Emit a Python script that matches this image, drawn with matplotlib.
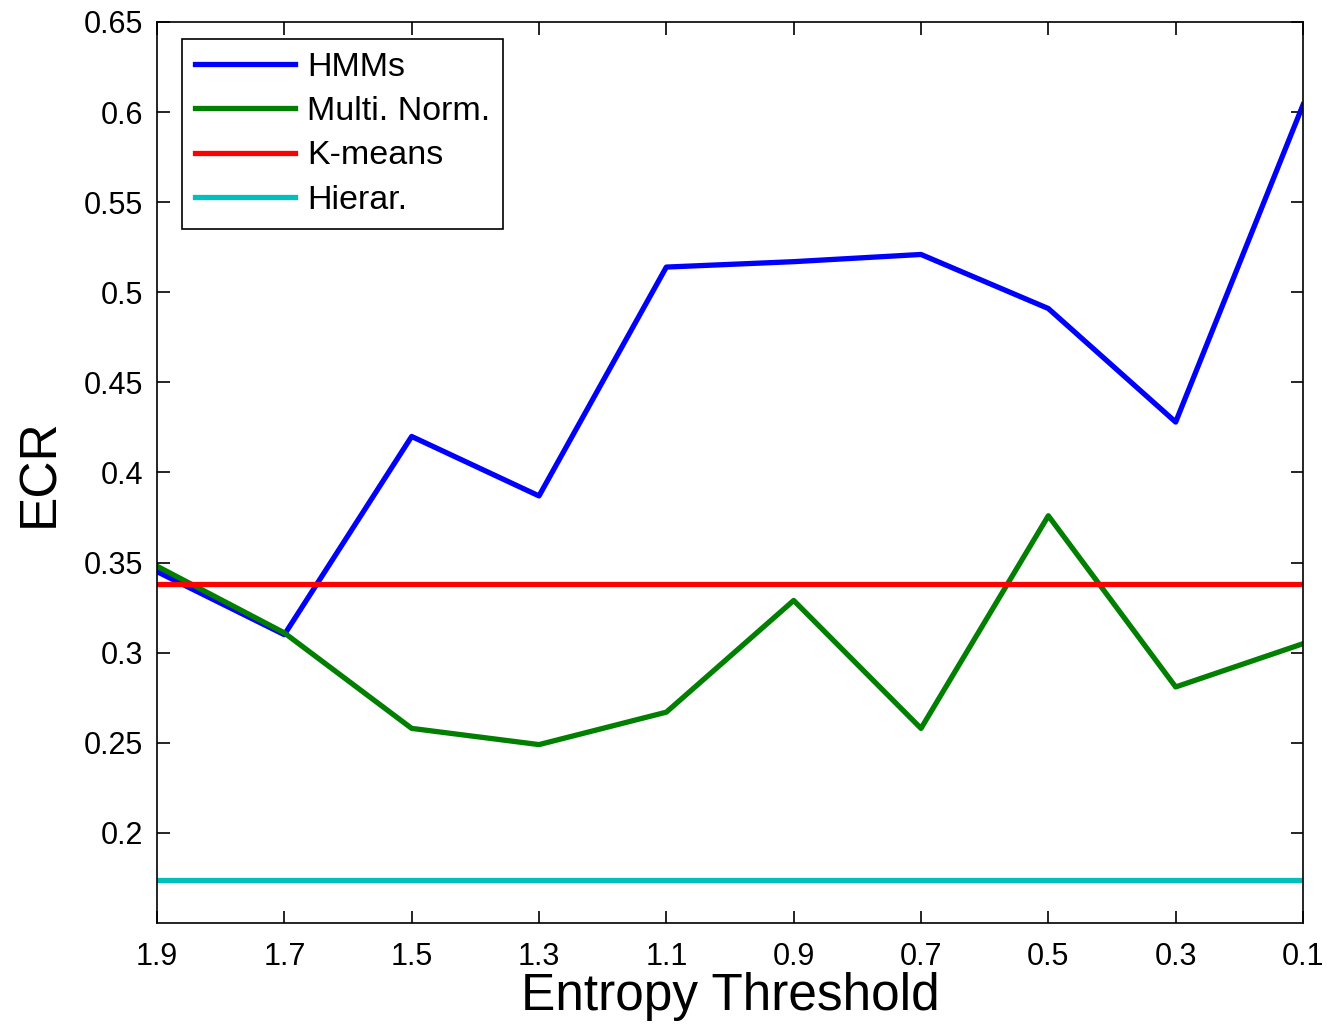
import matplotlib.pyplot as plt
import numpy as np

plt.rcParams['font.family'] = ['Liberation Sans', 'DejaVu Sans']

# ECR against entropy threshold for each clustering method
thresholds = [1.9, 1.7, 1.5, 1.3, 1.1, 0.9, 0.7, 0.5, 0.3, 0.1]
hmm_ecr = [0.345, 0.310, 0.420, 0.387, 0.514, 0.517, 0.521, 0.491, 0.428, 0.604]
multinorm_ecr = [0.348, 0.311, 0.258, 0.249, 0.267, 0.329, 0.258, 0.376, 0.281, 0.305]
kmeans_ecr = 0.338
hierar_ecr = 0.174

x_ticks = [1.9, 1.7, 1.5, 1.3, 1.1, 0.9, 0.7, 0.5, 0.3, 0.1]
y_ticks = [0.2, 0.25, 0.3, 0.35, 0.4, 0.45, 0.5, 0.55, 0.6, 0.65]

fig = plt.figure(figsize=(13.27, 10.29), dpi=100)
ax = fig.add_axes([157 / 1327, 1 - 923 / 1029, (1303 - 157) / 1327, (923 - 22) / 1029])

lw = 3.8
ax.plot(thresholds, hmm_ecr, color='#0000ff', lw=lw, label='HMMs')
ax.plot(thresholds, multinorm_ecr, color='#007f00', lw=lw, label='Multi. Norm.')
ax.plot(thresholds, [kmeans_ecr] * len(thresholds), color='#ff0000', lw=lw, label='K-means')
ax.plot(thresholds, [hierar_ecr] * len(thresholds), color='#00bfbf', lw=lw, label='Hierar.')

ax.set_xlim(1.9, 0.1)
ax.set_ylim(0.15, 0.65)
ax.set_xticks(x_ticks)
ax.set_xticklabels([f'{t:g}' for t in x_ticks])
ax.set_yticks(y_ticks)
ax.set_yticklabels([f'{t:g}' for t in y_ticks])
ax.tick_params(axis='both', direction='in', length=9, width=1.2, labelsize=22,
               top=True, right=True)
ax.tick_params(axis='x', pad=14)
ax.tick_params(axis='y', pad=10)
for s in ax.spines.values():
    s.set_linewidth(1.2)

ax.set_xlabel('Entropy Threshold', fontsize=37, labelpad=0)
ax.set_ylabel('ECR', fontsize=37, labelpad=14)

leg = ax.legend(loc='upper left', bbox_to_anchor=(182 / 1327, 1 - 39 / 1029),
                bbox_transform=fig.transFigure, fontsize=24.5, fancybox=False,
                edgecolor='black', framealpha=1, handlelength=2.95,
                borderpad=0.38, labelspacing=0.39, handletextpad=0.35,
                borderaxespad=0)
leg.get_frame().set_linewidth(1.2)

fig.savefig('out.png', dpi=100)
